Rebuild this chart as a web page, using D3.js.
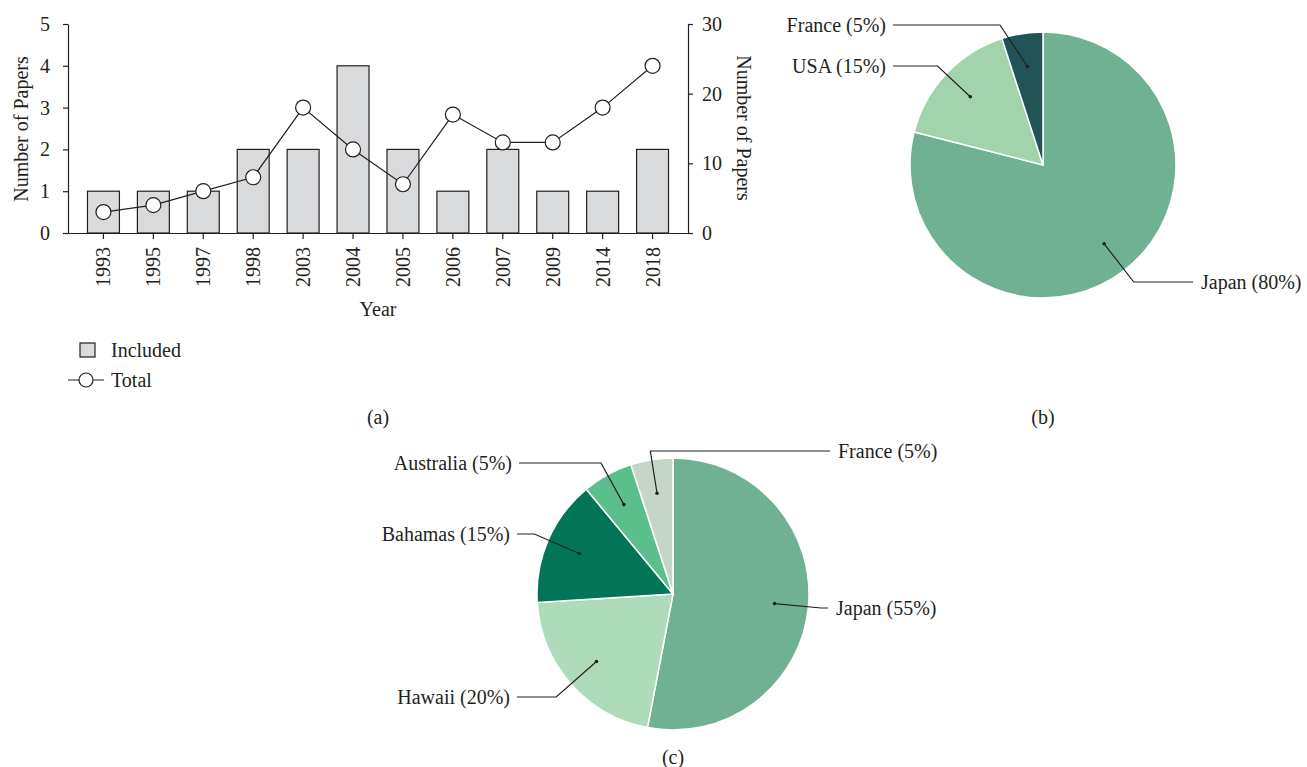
<!doctype html>
<html>
  <head>
    <script src="https://cdnjs.cloudflare.com/ajax/libs/d3/7.8.5/d3.min.js"></script>
    <style>
      body { margin: 0; background: #fff; }
      svg { display: block; }
      text { font-family: "Liberation Serif", "DejaVu Serif", serif; font-size: 20px; fill: #231f20; }
      .axis path, .axis line { stroke: #231f20; stroke-width: 1.2; }
      .axis text { font-family: "Liberation Serif", serif; font-size: 20px; fill: #231f20; }
      rect.bar { fill: #d9dadc; stroke: #231f20; stroke-width: 1.2; }
      path.total { fill: none; stroke: #231f20; stroke-width: 1.2; }
      circle.total { fill: #fff; stroke: #231f20; stroke-width: 1.2; }
      path.slice { stroke: #fff; stroke-width: 1.5; }
      path.leader { fill: none; stroke: #231f20; stroke-width: 1.2; }
      circle.dot { fill: #231f20; }
    </style>
  </head>
  <body>
    <svg width="1307" height="767"></svg>
    <script>
      // (a) papers per year
      var years = ["1993", "1995", "1997", "1998", "2003", "2004", "2005", "2006", "2007", "2009", "2014", "2018"];
      var included = [1, 1, 1, 2, 2, 4, 2, 1, 2, 1, 1, 2];
      var total = [3, 4, 6, 8, 18, 12, 7, 17, 13, 13, 18, 24];
      var leftTicks = [0, 1, 2, 3, 4, 5];
      var rightTicks = [0, 10, 20, 30];

      // (b) countries
      var pieBNames = ["Japan (80%)", "USA (15%)", "France (5%)"];
      var pieBValues = [79, 16, 5];
      var pieBColors = ["#70b194", "#a1d4ad", "#225356"];

      // (c) locations
      var pieCNames = ["Japan (55%)", "Hawaii (20%)", "Bahamas (15%)", "Australia (5%)", "France (5%)"];
      var pieCValues = [53, 21, 15, 6, 5];
      var pieCColors = ["#70b194", "#aedbb9", "#037557", "#5bbf8c", "#c5d6c9"];

      var svg = d3.select("svg");

      // ---------- bar + line chart ----------
      var x = d3.scaleBand().domain(years).range([68, 688])
        .paddingInner(0.36).paddingOuter(0.39);
      var yL = d3.scaleLinear().domain([0, 5]).range([233, 24]);
      var yR = d3.scaleLinear().domain([0, 30]).range([233, 24]);

      svg.selectAll("rect.bar").data(included)
        .enter().append("rect")
          .attr("class", "bar")
          .attr("x", (d, i) => x(years[i]))
          .attr("width", x.bandwidth())
          .attr("y", d => yL(d))
          .attr("height", d => yL(0) - yL(d));

      var lineGen = d3.line()
        .x((d, i) => x(years[i]) + x.bandwidth() / 2)
        .y(d => yR(d));

      svg.append("path").datum(total)
        .attr("class", "total")
        .attr("d", lineGen);

      svg.selectAll("circle.total").data(total)
        .enter().append("circle")
          .attr("class", "total")
          .attr("r", 7.5)
          .attr("cx", (d, i) => x(years[i]) + x.bandwidth() / 2)
          .attr("cy", d => yR(d));

      svg.append("g").attr("class", "axis")
        .attr("transform", "translate(68,0)")
        .call(d3.axisLeft(yL).tickValues(leftTicks).tickFormat(d3.format("d"))
          .tickSize(5).tickSizeOuter(0).tickPadding(13));

      svg.append("g").attr("class", "axis")
        .attr("transform", "translate(688,0)")
        .call(d3.axisRight(yR).tickValues(rightTicks).tickFormat(d3.format("d"))
          .tickSize(5).tickSizeOuter(0).tickPadding(9));

      svg.append("g").attr("class", "axis")
        .attr("transform", "translate(0,233)")
        .call(d3.axisBottom(x).tickSize(6).tickSizeOuter(0))
        .selectAll("text")
          .attr("transform", "rotate(-90)")
          .attr("text-anchor", "end")
          .attr("x", -14)
          .attr("y", 0)
          .attr("dy", "0.35em");

      svg.append("text")
        .attr("transform", "translate(28,129) rotate(-90)")
        .attr("text-anchor", "middle")
        .text("Number of Papers");

      svg.append("text")
        .attr("transform", "translate(737,128) rotate(90)")
        .attr("text-anchor", "middle")
        .text("Number of Papers");

      svg.append("text")
        .attr("x", 378).attr("y", 316)
        .attr("text-anchor", "middle")
        .text("Year");

      // legend
      svg.append("rect").attr("class", "bar")
        .attr("x", 80).attr("y", 343).attr("width", 15).attr("height", 14);
      svg.append("text").attr("x", 111).attr("y", 350).attr("dy", "0.35em").text("Included");
      svg.append("line")
        .attr("x1", 68).attr("x2", 104).attr("y1", 380).attr("y2", 380)
        .style("stroke", "#231f20").style("stroke-width", 1.2);
      svg.append("circle").attr("class", "total").attr("cx", 86).attr("cy", 380).attr("r", 7);
      svg.append("text").attr("x", 111).attr("y", 380).attr("dy", "0.35em").text("Total");

      // ---------- pies ----------
      function drawPie(cx, cy, r, values, colors, names, layout) {
        var g = svg.append("g");
        var arcs = d3.pie().sort(null).value(d => d)(values);
        var arc = d3.arc().innerRadius(0).outerRadius(r);

        g.selectAll("path.slice").data(arcs)
          .enter().append("path")
            .attr("class", "slice")
            .attr("transform", "translate(" + cx + "," + cy + ")")
            .attr("d", arc)
            .style("fill", (d, i) => colors[i]);

        arcs.forEach(function (d, i) {
          var L = layout[i];
          var a = (d.startAngle + d.endAngle) / 2;
          var ux = Math.sin(a), uy = -Math.cos(a);
          var px = cx + ux * r * 0.75, py = cy + uy * r * 0.75;
          var pts = [[px, py]];
          var ex = L.elbowX != null ? L.elbowX : px + ux * (L.y - py) / uy;
          var past = L.side == "right" ? ex > L.end : ex < L.end;
          if (!past) pts.push([ex, L.y]);
          pts.push([L.end, L.y]);

          g.append("path").attr("class", "leader").attr("d", d3.line()(pts));
          g.append("circle").attr("class", "dot").attr("cx", px).attr("cy", py).attr("r", 1.8);
          g.append("text")
            .attr("x", L.side == "right" ? L.end + 8 : L.end - 7)
            .attr("y", L.y)
            .attr("dy", "0.35em")
            .attr("text-anchor", L.side == "right" ? "start" : "end")
            .text(names[i]);
        });
      }

      drawPie(1043, 165, 133, pieBValues, pieBColors, pieBNames, [
        { y: 282, end: 1193, side: "right" },
        { y: 66, end: 893, side: "left" },
        { y: 25, end: 893, side: "left", elbowX: 1000 }
      ]);

      drawPie(673, 594, 136, pieCValues, pieCColors, pieCNames, [
        { y: 608, end: 828, side: "right" },
        { y: 697, end: 517, side: "left" },
        { y: 534, end: 517, side: "left" },
        { y: 463, end: 519, side: "left" },
        { y: 451, end: 830, side: "right" }
      ]);

      // captions
      [["(a)", 378, 417], ["(b)", 1043, 417], ["(c)", 673, 757]].forEach(function (c) {
        svg.append("text")
          .attr("x", c[1]).attr("y", c[2]).attr("dy", "0.35em")
          .attr("text-anchor", "middle")
          .text(c[0]);
      });
    </script>
  </body>
</html>
